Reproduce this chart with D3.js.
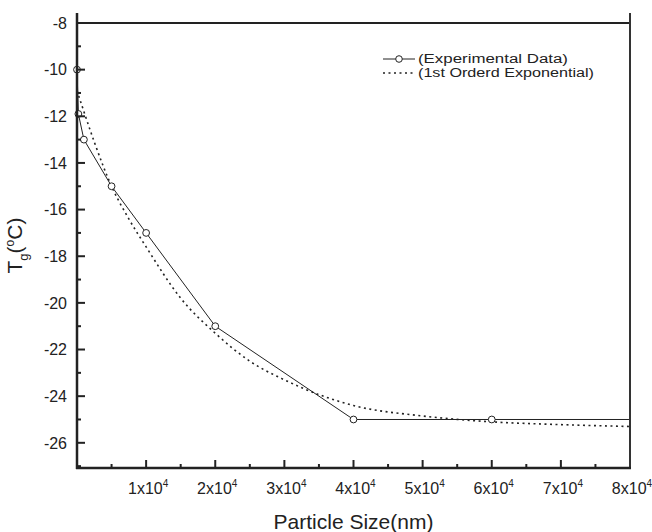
<!DOCTYPE html>
<html>
<head>
<meta charset="utf-8">
<script src="https://cdn.jsdelivr.net/npm/d3@7"></script>
<style>
  body { margin: 0; background: #fff; }
  text { font-family: "Liberation Sans", Arial, sans-serif; fill: #222; }
</style>
</head>
<body>
<div id="chart"></div>
<script>
// experimental points (particle size nm, Tg °C)
var expX = [0, 200, 1000, 5000, 10000, 20000, 40000, 60000, 80000];
var expY = [-10, -11.9, -13, -15, -17, -21, -25, -25, -25];

// fitted curve
var fitX = [0, 1000, 2500, 5000, 7500, 10000, 15000, 20000, 25000, 30000, 40000, 50000, 60000, 70000, 80000];
var fitY = [-10.9, -11.8, -13.1, -15.0, -16.4, -17.6, -19.8, -21.3, -22.5, -23.3, -24.4, -24.85, -25.1, -25.22, -25.3];

var xTicks = [10000, 20000, 30000, 40000, 50000, 60000, 70000, 80000];
var yTicks = [-8, -10, -12, -14, -16, -18, -20, -22, -24, -26];
var legendLabels = ["(Experimental Data)", "(1st Orderd Exponential)"];
var legendWidths = [150, 176];

var W = 652, H = 532;
var margin = {top: 23, right: 22, bottom: 64, left: 77};
var width = W - margin.left - margin.right;
var height = H - margin.top - margin.bottom;

var svg = d3.select("#chart").append("svg")
  .attr("width", W)
  .attr("height", H);

var g = svg.append("g")
  .attr("transform", "translate(" + margin.left + "," + margin.top + ")");

var x = d3.scaleLinear().domain([0, 80000]).range([0, width]);
var y = d3.scaleLinear().domain([-8, -27.08]).range([0, height]);

// plot lines
var expData = expX.map(function(d, i) { return {x: d, y: expY[i]}; });
var fitData = fitX.map(function(d, i) { return {x: d, y: fitY[i]}; });

g.append("path")
  .datum(fitData)
  .attr("fill", "none")
  .attr("stroke", "#222")
  .attr("stroke-width", 1.6)
  .attr("stroke-dasharray", "2,3.5")
  .attr("d", d3.line().curve(d3.curveMonotoneX)
    .x(function(d) { return x(d.x); })
    .y(function(d) { return y(d.y); }));

g.append("path")
  .datum(expData)
  .attr("fill", "none")
  .attr("stroke", "#222")
  .attr("stroke-width", 1)
  .attr("d", d3.line()
    .x(function(d) { return x(d.x); })
    .y(function(d) { return y(d.y); }));

g.selectAll("circle.pt")
  .data(expData.filter(function(d) { return d.x < 80000; }))
  .enter().append("circle")
  .attr("class", "pt")
  .attr("cx", function(d) { return x(d.x); })
  .attr("cy", function(d) { return y(d.y); })
  .attr("r", 3.4)
  .attr("fill", "#fff")
  .attr("stroke", "#222")
  .attr("stroke-width", 1);

// frame: top and right lines, verticals poke above the top
g.append("line")
  .attr("x1", 0).attr("x2", width)
  .attr("y1", 0).attr("y2", 0)
  .attr("stroke", "#222").attr("stroke-width", 2);
g.append("line")
  .attr("x1", width).attr("x2", width)
  .attr("y1", -10).attr("y2", height)
  .attr("stroke", "#333").attr("stroke-width", 2);

// axes with inward ticks
var minorX = d3.range(5000, 80000, 10000);
var minorY = d3.range(-9, -27.5, -2);

var xAxis = g.append("g")
  .attr("transform", "translate(0," + height + ")");
xAxis.selectAll("line.major")
  .data(xTicks.slice(0, -1))
  .enter().append("line")
  .attr("x1", function(d) { return x(d); })
  .attr("x2", function(d) { return x(d); })
  .attr("y1", 0).attr("y2", -8)
  .attr("stroke", "#222").attr("stroke-width", 2);
xAxis.selectAll("line.minor")
  .data(minorX)
  .enter().append("line")
  .attr("x1", function(d) { return x(d); })
  .attr("x2", function(d) { return x(d); })
  .attr("y1", 0).attr("y2", -4)
  .attr("stroke", "#222").attr("stroke-width", 2);
xAxis.append("line")
  .attr("x1", -1).attr("x2", width + 1)
  .attr("y1", 0).attr("y2", 0)
  .attr("stroke", "#222").attr("stroke-width", 2.5);

var xLab = xAxis.selectAll("text.tl")
  .data(xTicks)
  .enter().append("text")
  .attr("class", "tl")
  .attr("x", function(d) { return x(d) + 2; })
  .attr("y", 26)
  .attr("text-anchor", "middle")
  .attr("font-size", 16);
xLab.append("tspan").text(function(d) { return (d / 10000) + "x10"; });
xLab.append("tspan").attr("dy", -7).attr("font-size", 10).text("4");

var yAxis = g.append("g");
yAxis.selectAll("line.major")
  .data(yTicks.slice(1))
  .enter().append("line")
  .attr("x1", 0).attr("x2", 8)
  .attr("y1", function(d) { return y(d); })
  .attr("y2", function(d) { return y(d); })
  .attr("stroke", "#222").attr("stroke-width", 2);
yAxis.selectAll("line.minor")
  .data(minorY)
  .enter().append("line")
  .attr("x1", 0).attr("x2", 4)
  .attr("y1", function(d) { return y(d); })
  .attr("y2", function(d) { return y(d); })
  .attr("stroke", "#222").attr("stroke-width", 2);
yAxis.append("line")
  .attr("x1", 0).attr("x2", 0)
  .attr("y1", -10).attr("y2", height + 1)
  .attr("stroke", "#222").attr("stroke-width", 2.5);
yAxis.selectAll("text.tl")
  .data(yTicks)
  .enter().append("text")
  .attr("class", "tl")
  .attr("x", -10)
  .attr("y", function(d) { return y(d); })
  .attr("dy", "0.36em")
  .attr("text-anchor", "end")
  .attr("font-size", 16)
  .text(function(d) { return d; });

// axis titles
svg.append("text")
  .attr("x", margin.left + width / 2)
  .attr("y", 529)
  .attr("text-anchor", "middle")
  .attr("font-size", 21)
  .text("Particle Size(nm)");

var yt = svg.append("text")
  .attr("transform", "translate(22," + (margin.top + height / 2) + ") rotate(-90)")
  .attr("text-anchor", "middle")
  .attr("font-size", 21);
yt.append("tspan").text("T");
yt.append("tspan").attr("dy", 6).attr("font-size", 13).text("g");
yt.append("tspan").attr("dy", -6).text("(");
yt.append("tspan").attr("dy", -8).attr("font-size", 12).text("o");
yt.append("tspan").attr("dy", 8).text("C)");

// legend
var lg = svg.append("g").attr("transform", "translate(383,59)");
lg.append("line").attr("x1", 0).attr("x2", 32).attr("y1", 0).attr("y2", 0)
  .attr("stroke", "#222").attr("stroke-width", 1);
lg.append("circle").attr("cx", 16).attr("cy", 0).attr("r", 3.3)
  .attr("fill", "#fff").attr("stroke", "#222");
lg.append("line").attr("x1", 0).attr("x2", 32).attr("y1", 14).attr("y2", 14)
  .attr("stroke", "#222").attr("stroke-width", 1.4).attr("stroke-dasharray", "2,3.5");
lg.selectAll("text")
  .data(legendLabels)
  .enter().append("text")
  .attr("x", 35)
  .attr("y", function(d, i) { return i * 14; })
  .attr("dy", "0.36em")
  .attr("font-size", 12)
  .attr("textLength", function(d, i) { return legendWidths[i]; })
  .attr("lengthAdjust", "spacingAndGlyphs")
  .text(function(d) { return d; });
</script>
</body>
</html>
